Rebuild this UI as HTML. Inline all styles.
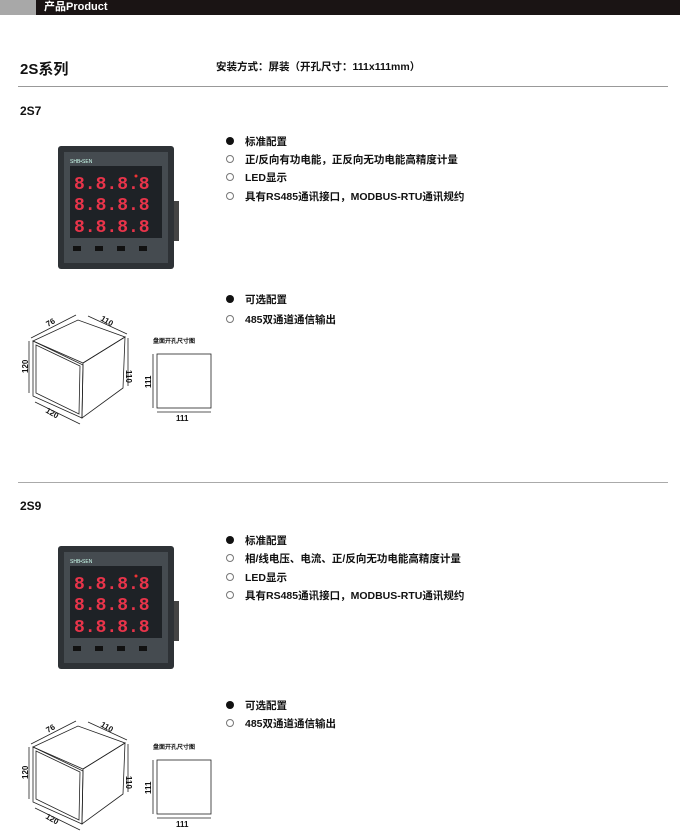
<!DOCTYPE html>
<html><head><meta charset="utf-8"><style>
*{margin:0;padding:0}
body{width:680px;height:840px;background:#fff;position:relative;overflow:hidden;font-family:"Liberation Sans","Noto Sans CJK SC",sans-serif;color:#111}
.a{position:absolute;white-space:nowrap}
.t{font-size:10.5px;font-weight:bold;left:245px}
.b{position:absolute;left:226px;width:8px;height:8px;border-radius:50%;box-sizing:border-box}
.f{background:#111}
.o{border:1px solid #777}
</style></head><body>
<div class="a" style="left:0;top:0;width:36px;height:15px;background:#a8a8a8"></div>
<div class="a" style="left:36px;top:0;width:644px;height:15px;background:#1a1414"></div>
<div class="a" style="left:44px;top:0;color:#fff;font-size:11px;line-height:15px;font-weight:bold">产品Product</div>
<div class="a" style="left:20px;top:58px;font-size:15px;font-weight:bold">2S系列</div>
<div class="a" style="left:216px;top:59px;font-size:10.5px;font-weight:bold">安装方式：屏装（开孔尺寸：111x111mm）</div>
<div class="a" style="left:18px;top:86px;width:650px;height:1px;background:#999"></div>
<div class="a" style="left:20px;top:104px;font-size:12px;font-weight:bold">2S7</div>
<div class="a" style="left:18px;top:482px;width:650px;height:1px;background:#aaa"></div>
<div class="a" style="left:20px;top:499px;font-size:12px;font-weight:bold">2S9</div>

<div class="b f" style="top:137px"></div><div class="a t" style="top:134px">标准配置</div>
<div class="b o" style="top:155px"></div><div class="a t" style="top:152px">正/反向有功电能，正反向无功电能高精度计量</div>
<div class="b o" style="top:173px"></div><div class="a t" style="top:170px">LED显示</div>
<div class="b o" style="top:192px"></div><div class="a t" style="top:189px">具有RS485通讯接口，MODBUS-RTU通讯规约</div>
<div class="b f" style="top:295px"></div><div class="a t" style="top:292px">可选配置</div>
<div class="b o" style="top:315px"></div><div class="a t" style="top:312px">485双通道通信输出</div>

<div class="b f" style="top:536px"></div><div class="a t" style="top:533px">标准配置</div>
<div class="b o" style="top:554px"></div><div class="a t" style="top:551px">相/线电压、电流、正/反向无功电能高精度计量</div>
<div class="b o" style="top:573px"></div><div class="a t" style="top:570px">LED显示</div>
<div class="b o" style="top:591px"></div><div class="a t" style="top:588px">具有RS485通讯接口，MODBUS-RTU通讯规约</div>
<div class="b f" style="top:701px"></div><div class="a t" style="top:698px">可选配置</div>
<div class="b o" style="top:719px"></div><div class="a t" style="top:716px">485双通道通信输出</div>

<svg class="a" style="left:0;top:0" width="680" height="840">
<defs>
<g id="m">
<rect x="114" y="55" width="7" height="40" fill="#444"/>
<rect x="0" y="0" width="116" height="123" rx="3" fill="#2e3236"/>
<rect x="6" y="6" width="104" height="111" fill="#454b50"/>
<text x="12" y="17" font-size="5" fill="#cfe" font-family="Liberation Sans">SHB•SEN</text>
<rect x="12" y="20" width="92" height="72" fill="#1e2226"/>
<g font-family="Liberation Mono" font-weight="bold" font-size="18" fill="#e8344a">
<text x="16" y="43">8.8.8.8</text><text x="16" y="64">8.8.8.8</text><text x="16" y="86">8.8.8.8</text></g>
<circle cx="78" cy="30" r="1.5" fill="#e33"/>
<rect x="15" y="100" width="8" height="5" fill="#111"/><rect x="37" y="100" width="8" height="5" fill="#111"/>
<rect x="59" y="100" width="8" height="5" fill="#111"/><rect x="81" y="100" width="8" height="5" fill="#111"/>
</g>
<g id="d" fill="none" stroke="#222" stroke-width="0.8" font-family="Liberation Sans" font-weight="bold">
<polygon points="33,341 83,365 82,418 33,396"/>
<polygon points="36,345 80,366 79,414 36,393"/>
<polygon points="33,341 78,320 125,337 83,363"/>
<polygon points="83,363 125,337 123,388 82,418"/>
<line x1="29" y1="341" x2="29" y2="393"/><line x1="128" y1="338" x2="128" y2="386"/>
<line x1="31" y1="338" x2="76" y2="315"/><line x1="88" y1="316" x2="127" y2="334"/>
<line x1="35" y1="402" x2="80" y2="424"/>
<rect x="157" y="354" width="54" height="54"/>
<line x1="153" y1="354" x2="153" y2="408"/><line x1="157" y1="412" x2="211" y2="412"/>
<g stroke="none" fill="#111" font-size="8">
<text transform="translate(28,373) rotate(-90)">120</text>
<text transform="translate(126,370) rotate(90)">110</text>
<text transform="translate(48,327) rotate(-30)">76</text>
<text transform="translate(100,320) rotate(30)">110</text>
<text transform="translate(45,412) rotate(30)">120</text>
<text transform="translate(151,388) rotate(-90)">111</text>
<text x="176" y="421">111</text>
<text x="153" y="343" font-size="6">盘面开孔尺寸图</text>
</g></g>
</defs>
<use href="#m" transform="translate(58,146)"/>
<use href="#m" transform="translate(58,546)"/>
<use href="#d"/>
<use href="#d" transform="translate(0,406)"/>
</svg>
</body></html>
